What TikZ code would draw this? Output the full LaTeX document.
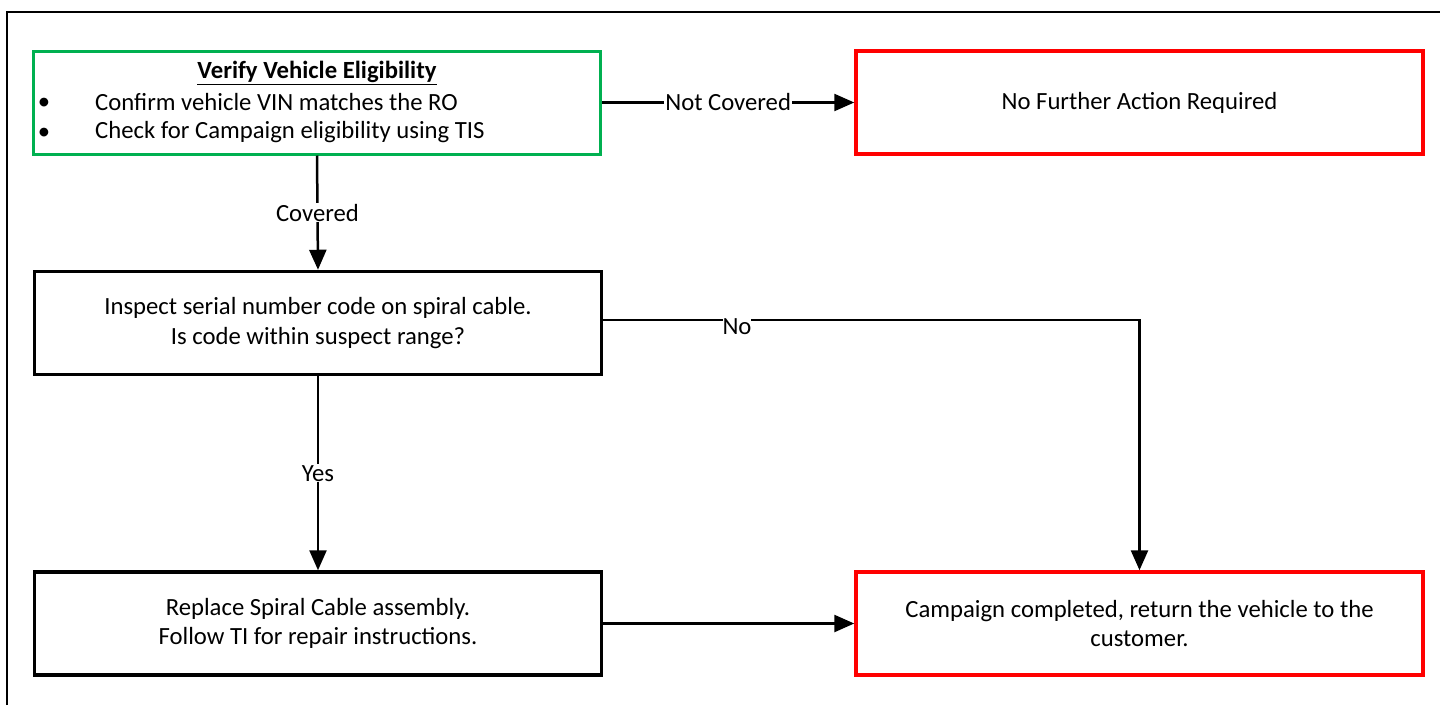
\documentclass[tikz,border=0pt]{standalone}
\usepackage{fontspec}
\setmainfont{Carlito}
\usepackage{tikz}
\usetikzlibrary{arrows.meta, positioning, calc}
\definecolor{okgreen}{RGB}{0, 176, 80}
\definecolor{stopred}{RGB}{255, 0, 0}

\begin{document}
\begin{tikzpicture}[
  x=1pt, y=-1pt,
  box/.style={draw, line width=3.5pt, minimum width=567pt, minimum height=103pt, inner sep=0pt, align=center, font=\fontsize{24.7}{29.5}\selectfont},
  txt/.style={inner sep=0pt, font=\fontsize{24.7}{29.5}\selectfont},
  lbl/.style={fill=white, inner sep=1pt, font=\fontsize{24.7}{29}\selectfont},
  flow/.style={-{Triangle[length=20pt, width=17pt]}, line width=2.5pt}
]
  \useasboundingbox (0,0) rectangle (1440,705);

  % Frame
  \draw[line width=2pt] (7,705) -- (7,12) -- (1440,12);

  % Boxes
  \node[box, draw=okgreen, line width=3pt] (verify) at (317,102.5) {};
  \node[box, draw=stopred] (noaction) at (1139.5,102.5) {No Further Action Required};
  \node[box] (inspect) at (318,323) {Inspect serial number code on spiral cable.\\Is code within suspect range?};
  \node[box] (replace) at (318,623.5) {Replace Spiral Cable assembly.\\Follow TI for repair instructions.};
  \node[box, draw=stopred] (complete) at (1139.5,623.5) {Campaign completed, return the vehicle to the\\customer.};

  % Eligibility text
  \node[txt] (title) at (317,73) {\textbf{\underline{Verify Vehicle Eligibility}}};
  \node[txt] (dot1) at (44,104) {•};
  \node[txt, anchor=west] (vin) at (95,102) {Confirm vehicle VIN matches the RO};
  \node[txt] (dot2) at (44,134) {•};
  \node[txt, anchor=west] (tis) at (95,132) {Check for Campaign eligibility using TIS};

  % Arrows
  \draw[flow] (verify.east) -- node[lbl] (ncov) {Not Covered} (noaction.west);
  \draw[flow] (verify.south) -- node[lbl] (cov) {Covered} (inspect.north);
  \coordinate (exit) at ([yshift=3pt]inspect.east);
  \coordinate (bend) at (complete.north |- exit);
  \draw[flow] (exit) -- (bend) -- (complete.north);
  \node[lbl, inner sep=0pt] (no) at (737,327) {No};
  \draw[flow] (inspect.south) -- node[lbl] (yes) {Yes} (replace.north);
  \draw[flow] (replace.east |- complete.west) -- (complete.west);
\end{tikzpicture}
\end{document}
